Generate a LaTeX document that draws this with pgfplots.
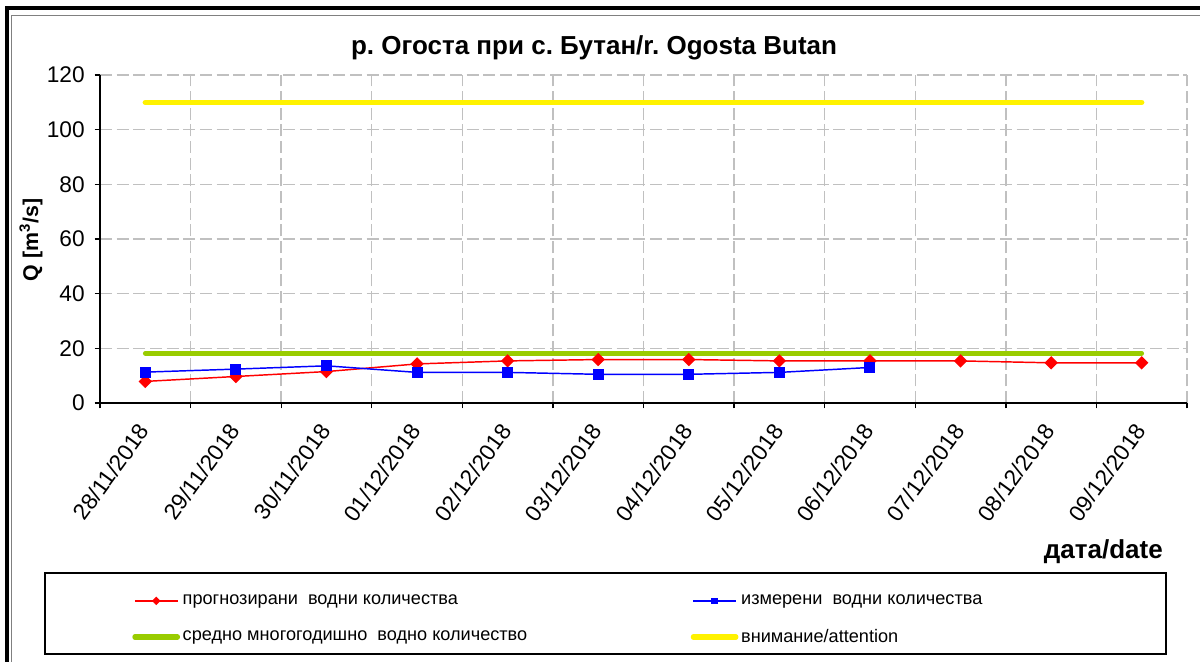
\documentclass[border=0pt]{standalone}
\usepackage{fontspec}
\setmainfont{Liberation Sans}
\usepackage{pgfplots}
\pgfplotsset{compat=1.18}
\definecolor{cgreen}{RGB}{153,204,0}
\definecolor{cgrid}{RGB}{192,192,192}
\frenchspacing
\begin{document}
\begin{tikzpicture}[x=0.75pt,y=0.75pt]
\path[use as bounding box] (0,0) rectangle (1200,661);
\fill[white] (0,0) rectangle (1200,661);
\draw[line width=3pt] (7,-10) -- (7,652.5) -- (1210,652.5);
\draw[line width=0.9pt, gray] (11.5,-10) -- (11.5,645.3) -- (1210,645.3);
\begin{axis}[
  at={(75pt,193.5pt)}, anchor=south west,
  scale only axis, width=815.25pt, height=246pt,
  xmin=0, xmax=12, ymin=0, ymax=120,
  axis x line*=bottom, axis y line*=left,
  axis line style={-, line width=1.1pt, black},
  xtick={0,1,...,12}, xticklabels={},
  ytick={0,20,...,120},
  tick align=outside,
  major tick length=4pt,
  tick style={black, line width=1pt},
  xmajorgrids, ymajorgrids,
  major grid style={cgrid, line width=1.1pt, dash pattern=on 9pt off 3.5pt},
  extra x ticks={0.5,1.5,...,11.5},
  extra x tick labels={28/11/2018,29/11/2018,30/11/2018,01/12/2018,02/12/2018,03/12/2018,04/12/2018,05/12/2018,06/12/2018,07/12/2018,08/12/2018,09/12/2018},
  extra x tick style={major tick length=0pt, grid=none,
     tick label style={xshift=1pt, yshift=-15pt, rotate=54, anchor=east}},
  ticklabel style={font=\fontsize{17}{17}\selectfont},
  yticklabel style={xshift=-4pt},
  /pgf/number format/assume math mode=true,
  legend columns=2,
  legend cell align=left,
  legend style={draw=none, fill=none, at={(0.0295,-0.661)}, anchor=west,
     font=\fontsize{13.6}{15}\selectfont, inner sep=0pt, row sep=13pt,
     /tikz/every even column/.append style={column sep=0pt}},
  legend image code/.code={\draw[mark repeat=2,mark phase=2,#1] plot coordinates {(0pt,0pt) (16pt,0pt) (32pt,0pt)};},
]
\addplot[cgreen, line width=3.5pt, line cap=round, forget plot] coordinates {(0.5,18.2) (11.5,18.2)};
\addplot[yellow, line width=4pt, line cap=round, forget plot] coordinates {(0.5,110) (11.5,110)};
\addplot[red, line width=1.1pt, mark=square*, mark size=3pt, mark options={rotate=45, solid}, forget plot] coordinates {
(0.5,7.9) (1.5,9.7) (2.5,11.5) (3.5,14.3) (4.5,15.4) (5.5,15.9) (6.5,15.9) (7.5,15.4) (8.5,15.4) (9.5,15.4) (10.5,14.7) (11.5,14.7)};
\addplot[blue, line width=1.1pt, mark=square*, mark size=3.6pt, forget plot] coordinates {
(0.5,11.3) (1.5,12.4) (2.5,13.6) (3.5,11.2) (4.5,11.2) (5.5,10.5) (6.5,10.5) (7.5,11.2) (8.5,13.0)};
\addlegendimage{red, line width=1.1pt, mark=square*, mark size=1.7pt, mark options={rotate=45}}
\addlegendentry{\makebox[379pt][l]{прогнозирани\ \ водни количества}}
\addlegendimage{blue, line width=1.1pt, mark=square*, mark size=2pt}
\addlegendentry{измерени\ \ водни количества}
\addlegendimage{cgreen, line width=3.8pt, line cap=round}
\addlegendentry{\makebox[379pt][l]{средно многогодишно\ \ водно количество}}
\addlegendimage{yellow, line width=3.8pt, line cap=round}
\addlegendentry{внимание/attention}
\end{axis}
\node[font=\bfseries\fontsize{19.5}{21}\selectfont] at (594,613) {р. Огоста при с. Бутан/r. Ogosta Butan};
\node[font=\bfseries\fontsize{19.5}{21}\selectfont, anchor=east, inner sep=0pt] at (1163,109) {дата/date};
\node[rotate=90, font=\bfseries\fontsize{16}{18}\selectfont] at (31,421) {Q [m\textsuperscript{3}/s]};
\draw[line width=1.1pt] (45,88) rectangle (1166,7);
\end{tikzpicture}
\end{document}
